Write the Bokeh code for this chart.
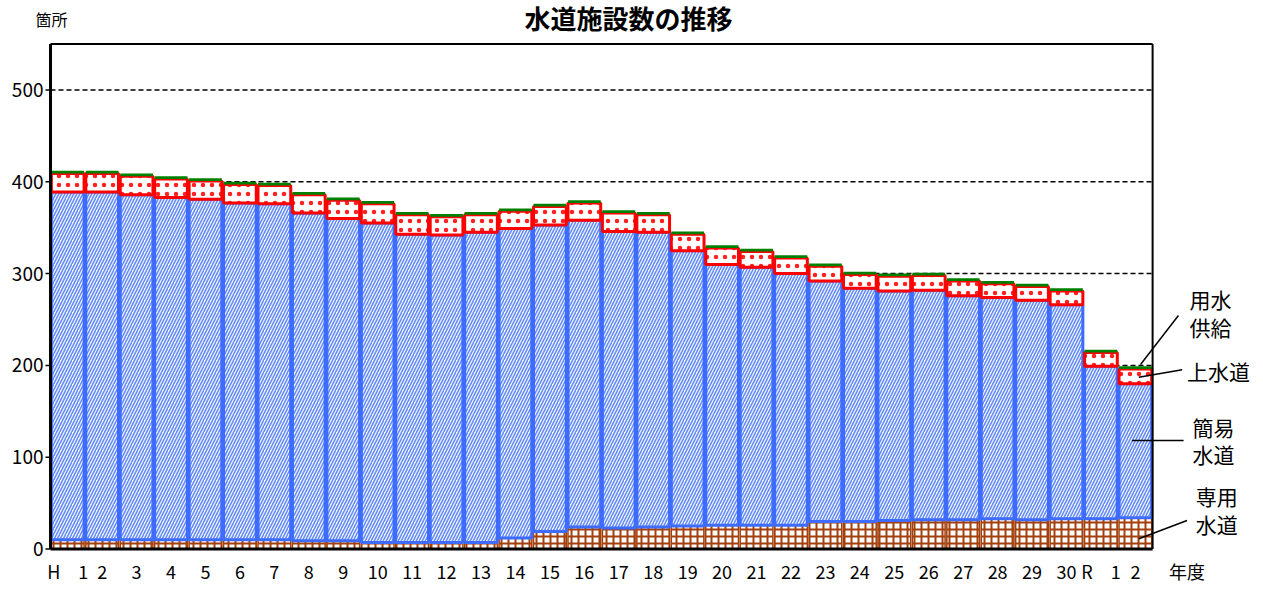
import numpy as np
from bokeh.plotting import figure
from bokeh.models import ColumnDataSource, FixedTicker, Range1d
from bokeh.embed import file_html
from bokeh.resources import INLINE
from bokeh.core.properties import value

# ---- data ----
year_labels = ["H　1", "2", "3", "4", "5", "6", "7", "8", "9", "10",
               "11", "12", "13", "14", "15", "16", "17", "18", "19", "20",
               "21", "22", "23", "24", "25", "26", "27", "28", "29", "30",
               "R　1", "2"]
senyo = [10, 10, 10, 10, 10, 10, 10, 9, 9, 7, 7, 7, 7, 12, 19, 24,
         23, 24, 25, 26, 26, 26, 30, 30, 31, 32, 32, 33, 32, 33, 33, 34]      # 専用水道
kani = [379, 379, 376, 373, 371, 367, 366, 357, 351, 348, 336, 335, 338, 337, 334, 334,
        323, 321, 300, 284, 281, 274, 262, 254, 250, 250, 244, 241, 239, 233, 166, 146]  # 簡易水道
jousui = [20, 20, 20, 20, 20, 20, 20, 20, 20, 21, 21, 20, 19, 19, 20, 19,
          20, 19, 18, 18, 17, 17, 16, 15, 16, 16, 16, 15, 15, 15, 15, 16]     # 上水道
yousui = [3, 3, 3, 3, 3, 3, 3, 3, 3, 3, 3, 3, 3, 3, 3, 3,
          3, 3, 3, 3, 3, 3, 3, 3, 3, 3, 3, 3, 3, 3, 3, 3]                     # 用水供給
series_names = ["用水\n供給", "上水道", "簡易\n水道", "専用\n水道"]
y_ticks = [0, 100, 200, 300, 400, 500]
title_text = "水道施設数の推移"
y_unit = "箇所"
x_unit = "年度"

FONT = "Noto Sans CJK JP"
n = len(year_labels)
xs = np.arange(n)
c1 = np.array(senyo, dtype=float)
c2 = c1 + np.array(kani)
c3 = c2 + np.array(jousui)
c4 = c3 + np.array(yousui)
src = ColumnDataSource(dict(x=xs, b0=np.zeros(n), c1=c1, c2=c2, c3=c3, c4=c4))

PX = 34.44  # pixels per x unit (used only for small tick-length offsets)
p = figure(width=1263, height=590, output_backend="svg", toolbar_location=None,
           x_range=Range1d(-0.9355, 34.72), y_range=Range1d(-2.72, 597.5),
           min_border_left=35, min_border_right=0, min_border_top=0, min_border_bottom=39,
           outline_line_color=None, background_fill_color="white")
p.xgrid.visible = False
p.ygrid.visible = False

xl, xr = -0.5, n - 0.5
ytop = 550
# dashed gridlines (behind bars)
gy = [t for t in y_ticks if t > 0]
p.segment(x0=[xl] * len(gy), x1=[xr] * len(gy), y0=gy, y1=gy,
          line_color="black", line_width=1.5, line_dash="5 3")

W = 0.95
p.vbar(x="x", bottom="b0", top="c1", width=W, source=src,
       fill_color="white", hatch_pattern="+", hatch_color="#a3400c", hatch_scale=7,
       hatch_weight=2, line_color="#a3400c", line_width=1.5)
p.vbar(x="x", bottom="c1", top="c2", width=W, source=src,
       fill_color="#eef3ff", hatch_pattern="/", hatch_color="#628aff", hatch_scale=6,
       hatch_weight=1.5, line_color="#3d6cff", line_width=3)
p.vbar(x="x", bottom="c2", top="c3", width=W, source=src,
       fill_color="white", hatch_pattern=".", hatch_color="#ff2020", hatch_scale=9,
       hatch_weight=2, line_color="#ff0000", line_width=3)
p.vbar(x="x", bottom="c3", top="c4", width=W, source=src,
       fill_color="#008000", line_color=None)

# chart box: left and bottom (thick), top and right border
p.segment(x0=[xl, xl], x1=[xr, xl], y0=[0, 0], y1=[0, ytop], line_color="black", line_width=3)
p.segment(x0=[xl, xr], x1=[xr, xr], y0=[ytop, 0], y1=[ytop, ytop],
          line_color="black", line_width=2)
# small outward tick marks on the y side of the box
p.segment(x0=[xl - 5 / PX] * len(y_ticks), x1=[xl] * len(y_ticks), y0=y_ticks, y1=y_ticks,
          line_color="black", line_width=1.5)

# y axis (labels only; frame edge sits 15px left of the box)
p.yaxis.ticker = FixedTicker(ticks=y_ticks)
p.yaxis.bounds = (0, ytop)
p.yaxis.axis_line_color = None
p.yaxis.minor_tick_line_color = None
p.yaxis.major_tick_line_color = None
p.yaxis.major_tick_out = 0
p.yaxis.major_tick_in = 0
p.yaxis.major_label_standoff = -8
p.yaxis.major_label_text_font = FONT
p.yaxis.major_label_text_font_size = "19px"
p.yaxis.major_label_text_color = "black"

x_ticks = list(range(n)) + [n + 0.5]
overrides = {i: lab for i, lab in enumerate(year_labels)}
overrides[n + 0.5] = x_unit
p.xaxis.ticker = FixedTicker(ticks=x_ticks)
p.xaxis.major_label_overrides = overrides
p.xaxis.axis_line_color = None
p.xaxis.major_tick_line_color = None
p.xaxis.major_tick_out = 0
p.xaxis.minor_tick_line_color = None
p.xaxis.major_label_standoff = 6
p.xaxis.major_label_text_font = FONT
p.xaxis.major_label_text_font_size = "18px"
p.xaxis.major_label_text_color = "black"

# title and unit label (inside the frame, above the box)
p.text(x=[16.28], y=[579.0], text=[title_text], text_font=value(FONT),
       text_font_size="26px", text_font_style="bold", text_align="center",
       text_baseline="middle", text_color="black")
p.text(x=[-0.47], y=[577.3], text=[y_unit], text_font=value(FONT),
       text_font_size="16px", text_align="center", text_baseline="middle",
       text_color="black")

# leader lines and series labels on the right
p.segment(x0=[31.15, 31.10, 30.9, 31.10], y0=[201.0, 187.1, 118.2, 11.1],
          x1=[32.25, 32.36, 32.4, 32.50], y1=[254.3, 195.2, 118.2, 31.0],
          line_color="black", line_width=1.5)
p.text(x=[33.18, 33.41, 33.27, 33.36], y=[257.1, 193.4, 118.2, 42.5], text=series_names,
       text_font=value(FONT), text_font_size="21px", text_align="center",
       text_baseline="middle", text_line_height=0.92, text_color="black")

open("out.html", "w").write(file_html(p, INLINE))
